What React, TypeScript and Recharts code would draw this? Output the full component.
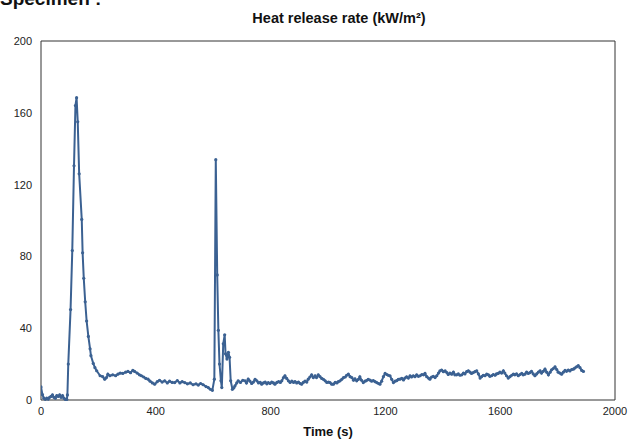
import React from "react";
import { LineChart, Line, XAxis, YAxis, ReferenceArea } from "recharts";

const TITLE = "Heat release rate (kW/m²)";
const X_LABEL = "Time (s)";
const SPECIMEN = "Specimen :";
const X_TICKS = [0, 400, 800, 1200, 1600, 2000];
const Y_TICKS = [0, 40, 80, 120, 160, 200];

const TIME = [
  0, 5, 10, 15, 20, 25, 30, 35, 40, 45, 50, 55, 60, 65, 70, 75, 80, 85, 90,
  92, 95, 103, 109, 115, 120, 124, 128, 133, 142, 145, 149, 154, 159, 165, 171, 174, 182, 188, 194,
  206, 215, 222, 228, 233, 240, 250, 260, 268, 276, 285, 295, 303, 312, 320, 326, 335, 343, 350,
  358, 365, 373, 380, 388, 396, 405, 413, 422, 431, 440, 448, 457, 466, 475, 484, 492, 501, 510,
  520, 530, 540, 548, 556, 565, 575, 583, 590, 597, 604, 609, 614, 618, 622, 627, 630, 635, 640,
  643, 648, 653, 657, 661, 667, 672, 676, 682, 687, 695, 703, 711, 716, 722, 728, 734, 740, 746,
  752, 758, 764, 769, 775, 781, 787, 792, 798, 804, 810, 815, 822, 828, 834, 839, 845, 850, 856,
  862, 868, 874, 880, 885, 891, 897, 903, 908, 914, 920, 926, 931, 937, 943, 949, 955, 960, 966,
  972, 978, 984, 990, 996, 1002, 1007, 1013, 1019, 1025, 1031, 1036, 1042, 1048, 1054, 1060, 1065,
  1071, 1077, 1083, 1089, 1094, 1100, 1106, 1111, 1117, 1123, 1129, 1134, 1140, 1146, 1152, 1158,
  1164, 1170, 1176, 1181, 1187, 1193, 1199, 1205, 1210, 1216, 1222, 1228, 1234, 1240, 1245, 1251,
  1257, 1263, 1268, 1274, 1280, 1286, 1291, 1297, 1303, 1309, 1315, 1321, 1327, 1333, 1338, 1344,
  1350, 1355, 1361, 1367, 1373, 1379, 1385, 1390, 1396, 1402, 1408, 1414, 1419, 1425, 1431, 1437,
  1442, 1448, 1454, 1460, 1466, 1472, 1477, 1483, 1489, 1495, 1500, 1506, 1512, 1518, 1524, 1530,
  1535, 1541, 1547, 1553, 1559, 1564, 1570, 1576, 1582, 1587, 1593, 1599, 1605, 1611, 1616, 1622,
  1628, 1634, 1640, 1646, 1651, 1657, 1663, 1669, 1675, 1680, 1686, 1692, 1698, 1704, 1709, 1715,
  1721, 1727, 1733, 1739, 1744, 1750, 1756, 1762, 1768, 1774, 1779, 1785, 1791, 1797, 1802, 1808,
  1814, 1820, 1826, 1831, 1837, 1843, 1849, 1855, 1860, 1866, 1872, 1878, 1884, 1890,
];

const HRR = [
  7.3, 3, 1, 0.4, 1, 0.5, 1.5, 2, 2.8, 1.5, 1, 2.5, 2, 2.8, 1.5, 2.5, 1, 0.3, 0.3,
  2.8, 20, 50.4, 83.3, 130.5, 164, 168.4, 155, 126, 100.6, 82, 67.8, 54.7, 44, 35.4, 28.5, 24.7, 20.4, 18, 16.3,
  13.5, 13, 11.6, 12.5, 14.4, 13.5, 14, 13.5, 14.4, 15, 14.8, 15.5, 15.9, 15.2, 16.5, 15.9, 15, 14, 13.5,
  12.8, 12, 11.6, 10.5, 9.5, 8.8, 10.2, 11, 10, 10.7, 9.5, 10.5, 9.8, 9.7, 10.8, 9.5, 10.2, 9.7, 9,
  9.5, 8.5, 9, 8.3, 9.2, 8.5, 7.5, 6.9, 6, 5.4, 11.6, 133.9, 69.7, 38.8, 20, 10.7, 6.9, 31.3, 36.3,
  25.7, 22.8, 26.6, 23.8, 10.7, 6, 6.8, 7.9, 9.5, 10.7, 9.8, 11, 10.7, 9.5, 11.6, 10.5, 9.2, 10, 11.5,
  10.7, 9.5, 9.8, 8.8, 9.5, 10, 9, 9.7, 9.2, 10, 9.5, 8.8, 9.8, 10.2, 9.8, 10.7, 12.5, 13.5, 12,
  10.7, 9.8, 10.5, 9.8, 10.3, 9.5, 10, 9.2, 8.8, 9.8, 10.5, 10, 11.6, 12.8, 14, 12.5, 13.5, 12.5, 14,
  13, 12, 11.5, 10.7, 9.8, 10, 9.7, 8.8, 8.8, 9.8, 9.5, 10.2, 10.7, 11.5, 12.5, 12.8, 13.8,
  14.4, 13, 12.5, 11, 11.8, 10.7, 11.5, 12.9, 11, 9.7, 10.5, 10.8, 11.5, 11.1, 10.5, 10.8,
  10.2, 9.7, 9.2, 8.8, 10.5, 13, 14.8, 14.2, 13.8, 13.5, 11.5, 9.7, 10.5, 10.8, 11.5, 11.6,
  12, 11.2, 12.2, 12.9, 12.2, 13.5, 12.8, 13.5, 13, 14, 13.2, 13.5, 14.2, 14, 14.8, 13,
  12.2, 11.6, 12.8, 13.2, 12.5, 13.5, 15, 16.2, 16.7, 15.8, 16.2, 15.3, 14.2, 15, 14.4, 15.5,
  14, 14, 14.5, 13.8, 14, 15, 14.5, 15.8, 16.3, 15.5, 14.8, 15.3, 15.8, 16.3, 14.5, 12.2,
  13, 13.8, 13.5, 14.4, 14, 13.2, 13.5, 14.2, 13.8, 14.5, 14.8, 15.5, 15, 16.3, 15, 13.5,
  12.2, 13, 13.8, 14.4, 14, 14.5, 13.5, 14.2, 14.8, 14, 14.4, 15.5, 14.8, 15.3, 16, 14.5,
  13.5, 14.5, 15.5, 16.3, 15, 16, 17.2, 15.5, 14, 15.5, 16.8, 17.5, 18.5, 17, 15.5, 15,
  14.4, 15.5, 16.5, 16, 16.7, 16.2, 17, 17.2, 17.8, 18.5, 19.1, 18, 16.5, 15.9,
];

const data = TIME.map((t, i) => ({ t, hrr: HRR[i] }));

const LINE_COLOR = "#3b6192";
const FONT = "'Liberation Sans', Arial, sans-serif";

export default function App() {
  return (
    <div style={{ position: "absolute", left: 0, top: 0, width: 632, height: 444, overflow: "hidden", background: "#fff", fontFamily: FONT }}>
      <div style={{ position: "absolute", left: 0, top: -12, fontSize: 19, lineHeight: "22px", fontWeight: "bold", color: "#111", whiteSpace: "nowrap" }}>
        {SPECIMEN}
      </div>
      <div style={{ position: "absolute", left: 0, width: 678, top: 9, fontSize: 14.5, lineHeight: "18px", fontWeight: "bold", color: "#111", textAlign: "center" }}>
        {TITLE}
      </div>
      <div style={{ position: "absolute", left: 0, width: 656, top: 424, fontSize: 13, lineHeight: "16px", fontWeight: "bold", color: "#111", textAlign: "center" }}>
        {X_LABEL}
      </div>
      <LineChart width={632} height={444} data={data} margin={{ top: 41, right: 17, left: 11, bottom: 14 }}>
        <XAxis
          dataKey="t"
          type="number"
          domain={[0, 2000]}
          ticks={X_TICKS}
          allowDataOverflow
          axisLine={false}
          tickLine={false}
          tickSize={5}
          height={30}
          interval={0}
          tick={{ fontSize: 11, fill: "#222", fontFamily: FONT }}
        />
        <YAxis
          type="number"
          domain={[0, 200]}
          ticks={Y_TICKS}
          axisLine={false}
          tickLine={false}
          tickSize={7}
          width={30}
          interval={0}
          tick={{ fontSize: 11, fill: "#222", fontFamily: FONT }}
        />
        <ReferenceArea x1={0} x2={2000} y1={0} y2={200} fill="none" stroke="#333" strokeWidth={1} ifOverflow="visible" />
        <Line
          type="linear"
          dataKey="hrr"
          stroke={LINE_COLOR}
          strokeWidth={2}
          dot={{ r: 1.6, fill: LINE_COLOR, stroke: "none" }}
          isAnimationActive={false}
        />
      </LineChart>
    </div>
  );
}
